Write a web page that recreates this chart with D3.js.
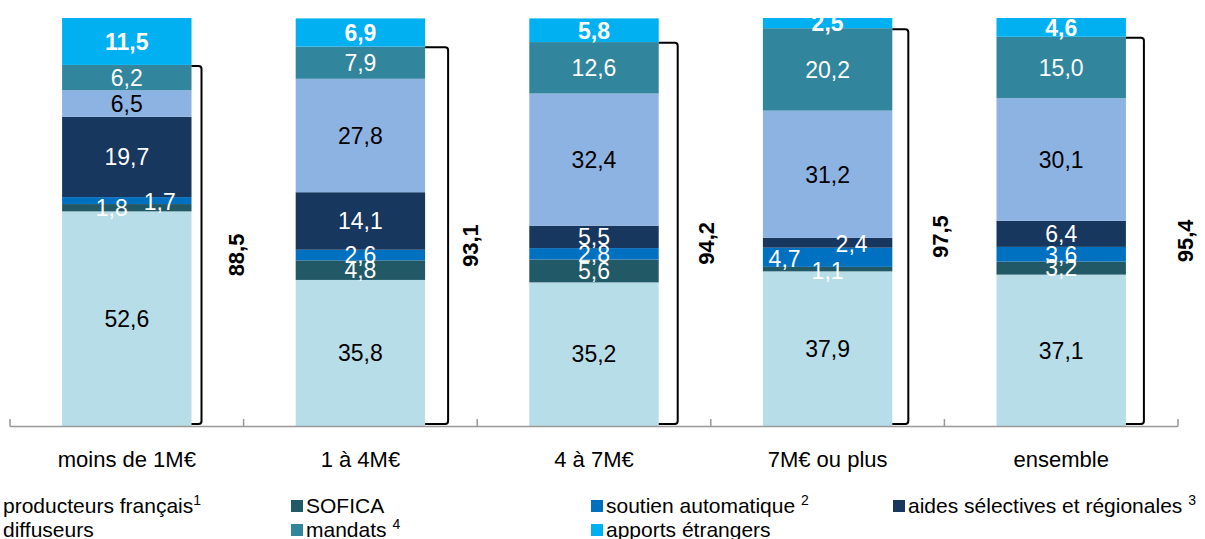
<!DOCTYPE html>
<html>
<head>
<meta charset="utf-8">
<script src="https://cdn.jsdelivr.net/npm/d3@7"></script>
<style>
  body { margin: 0; background: #fff; }
  svg { display: block; font-family: "Liberation Sans", Arial, sans-serif; }
</style>
</head>
<body>
<div id="chart"></div>
<script>
// categories (budget bands) and financing sources, bottom to top
const categories = ["moins de 1M€", "1 à 4M€", "4 à 7M€", "7M€ ou plus", "ensemble"];
const seriesKeys = ["producteurs", "sofica", "soutien", "aides", "diffuseurs", "mandats", "apports"];

const producteurs = [52.6, 35.8, 35.2, 37.9, 37.1];
const sofica      = [1.8, 4.8, 5.6, 1.1, 3.2];
const soutien     = [1.7, 2.6, 2.8, 4.7, 3.6];
const aides       = [19.7, 14.1, 5.5, 2.4, 6.4];
const diffuseurs  = [6.5, 27.8, 32.4, 31.2, 30.1];
const mandats     = [6.2, 7.9, 12.6, 20.2, 15.0];
const apports     = [11.5, 6.9, 5.8, 2.5, 4.6];
const totals      = [88.5, 93.1, 94.2, 97.5, 95.4];

const legendLabels = {
    producteurs: ["producteurs français", "1"],
    sofica: ["SOFICA", ""],
    soutien: ["soutien automatique ", "2"],
    aides: ["aides sélectives et régionales ", "3"],
    diffuseurs: ["diffuseurs", ""],
    mandats: ["mandats ", "4"],
    apports: ["apports étrangers", ""]
};

const colors = {
    producteurs: "#b7dde8",
    sofica: "#215967",
    soutien: "#0070c0",
    aides: "#17375e",
    diffuseurs: "#8db3e2",
    mandats: "#31859c",
    apports: "#00b0f0"
};
const darkText = { producteurs: true, diffuseurs: true };

const values = { producteurs, sofica, soutien, aides, diffuseurs, mandats, apports };

const width = 1205, height = 539;
const svg = d3.select("#chart").append("svg")
    .attr("width", width)
    .attr("height", height);

const xOuter = d3.scaleBand().domain(categories).range([10, 1178]);
const x = d3.scaleBand().domain(categories).range([10, 1178])
    .paddingInner(0.446).paddingOuter(0.223);
const y = d3.scaleLinear().domain([0, 100]).range([426, 18]);

// stack the rows
const rows = categories.map((c, i) => {
    const r = { cat: c };
    seriesKeys.forEach(k => r[k] = values[k][i]);
    return r;
});
const stacked = d3.stack().keys(seriesKeys)(rows);

// a few labels are nudged sideways in the original
const labelShift = {
    "moins de 1M€|sofica": [-15, 0],
    "moins de 1M€|soutien": [33, 1],
    "7M€ ou plus|soutien": [-43, 1],
    "7M€ ou plus|aides": [24, 1],
    "7M€ ou plus|sofica": [0, 2]
};

const fmt = v => d3.format(".1f")(v).replace(".", ",");

stacked.forEach(layer => {
    const g = svg.append("g");
    g.selectAll("rect")
        .data(layer)
        .join("rect")
        .attr("x", d => x(d.data.cat))
        .attr("width", x.bandwidth())
        .attr("y", d => y(d[1]))
        .attr("height", d => y(d[0]) - y(d[1]))
        .attr("fill", colors[layer.key]);
});

stacked.forEach(layer => {
    svg.append("g").selectAll("text")
        .data(layer)
        .join("text")
        .attr("x", d => x(d.data.cat) + x.bandwidth() / 2 + (labelShift[d.data.cat + "|" + layer.key] || [0, 0])[0])
        .attr("y", d => (y(d[0]) + y(d[1])) / 2 + (labelShift[d.data.cat + "|" + layer.key] || [0, 0])[1])
        .attr("dy", "0.36em")
        .attr("text-anchor", "middle")
        .attr("font-size", 23)
        .attr("font-weight", layer.key === "apports" ? "bold" : "normal")
        .attr("fill", darkText[layer.key] ? "#000" : "#fff")
        .text(d => fmt(d[1] - d[0]));
});

// axis: line with ticks on the band boundaries
const axisY = y(0);
svg.append("line")
    .attr("x1", xOuter.range()[0]).attr("x2", xOuter.range()[1])
    .attr("y1", axisY + 0.5).attr("y2", axisY + 0.5)
    .attr("stroke", "#999").attr("stroke-width", 1.5);
const tickXs = categories.map(c => xOuter(c)).concat([xOuter.range()[1]]);
svg.append("g").selectAll("line")
    .data(tickXs)
    .join("line")
    .attr("x1", d => d).attr("x2", d => d)
    .attr("y1", axisY - 7).attr("y2", axisY + 0.5)
    .attr("stroke", "#999").attr("stroke-width", 1.5);

svg.append("g").selectAll("text")
    .data(categories)
    .join("text")
    .attr("x", d => x(d) + x.bandwidth() / 2)
    .attr("y", 467)
    .attr("text-anchor", "middle")
    .attr("font-size", 22)
    .attr("fill", "#000")
    .text(d => d);

// brackets around everything except foreign contributions
const bracketGap = [10, 23, 19, 16, 18];
const totalGap = [35, 22, 28, 32, 41];
categories.forEach((c, i) => {
    const x0 = x(c) + x.bandwidth();
    const bx = x0 + bracketGap[i];
    const yTop = y(100 - apports[i]) + 1;
    const yBot = axisY - 2;
    const r = 3;
    svg.append("path")
        .attr("d", `M${x0},${yTop} L${bx - r},${yTop} Q${bx},${yTop} ${bx},${yTop + r} L${bx},${yBot - r} Q${bx},${yBot} ${bx - r},${yBot} L${x0},${yBot}`)
        .attr("fill", "none")
        .attr("stroke", "#000")
        .attr("stroke-width", 2);
    const lx = bx + totalGap[i];
    const ly = (yTop + yBot) / 2 + 10;
    svg.append("text")
        .attr("transform", `translate(${lx},${ly}) rotate(-90)`)
        .attr("text-anchor", "middle")
        .attr("dy", "0.36em")
        .attr("font-size", 22)
        .attr("font-weight", "bold")
        .attr("fill", "#000")
        .text(fmt(totals[i]));
});

// legend, two rows, four columns
const legendOrder = [
    ["producteurs", "sofica", "soutien", "aides"],
    ["diffuseurs", "mandats", "apports"]
];
const colX = [-12, 291, 591, 893];
const rowY = [513, 537];
legendOrder.forEach((row, ri) => {
    row.forEach((k, ci) => {
        const g = svg.append("g").attr("transform", `translate(${colX[ci]},${rowY[ri]})`);
        g.append("rect")
            .attr("x", 0).attr("y", -13)
            .attr("width", 12).attr("height", 12)
            .attr("fill", colors[k]);
        const t = g.append("text")
            .attr("x", 15)
            .attr("font-size", 21)
            .attr("fill", "#000");
        t.append("tspan").text(legendLabels[k][0]);
        if (legendLabels[k][1]) {
            t.append("tspan")
                .attr("dy", -8)
                .attr("font-size", 14)
                .text(legendLabels[k][1]);
        }
    });
});
</script>
</body>
</html>
